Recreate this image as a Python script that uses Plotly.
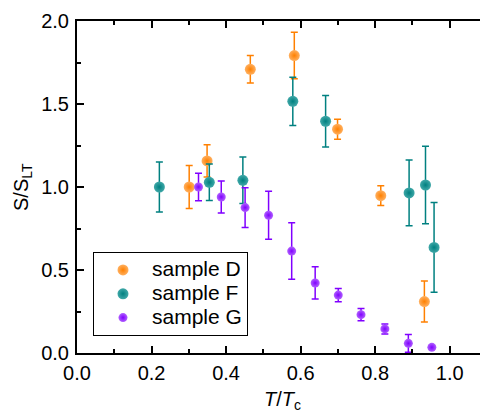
import plotly.graph_objects as go

# Sample D
d_x = [0.301, 0.349, 0.465, 0.583, 0.699, 0.815, 0.932]
d_y = [1.00, 1.157, 1.709, 1.792, 1.348, 0.948, 0.31]
d_err = [0.13, 0.097, 0.083, 0.14, 0.06, 0.06, 0.123]

# Sample F
f_x = [0.221, 0.355, 0.445, 0.579, 0.667, 0.891, 0.935, 0.958]
f_y = [1.00, 1.028, 1.04, 1.516, 1.396, 0.964, 1.012, 0.636]
f_err = [0.15, 0.11, 0.14, 0.145, 0.155, 0.198, 0.234, 0.27]

# Sample G
g_x = [0.326, 0.387, 0.451, 0.514, 0.576, 0.639, 0.701, 0.762, 0.826, 0.889, 0.952]
g_y = [1.00, 0.94, 0.876, 0.83, 0.614, 0.422, 0.349, 0.231, 0.145, 0.058, 0.034]
g_err = [0.083, 0.096, 0.12, 0.145, 0.17, 0.097, 0.04, 0.037, 0.03, 0.053, 0.008]

series = [
    ("sample D", d_x, d_y, d_err, "#FF8000", "#FFB060", 11),
    ("sample F", f_x, f_y, f_err, "#008080", "#40A8A8", 11),
    ("sample G", g_x, g_y, g_err, "#8000FF", "#B060FF", 9),
]

FONT = "Liberation Sans, Arial, sans-serif"

fig = go.Figure()
for name, xs, ys, es, col, light, size in series:
    fig.add_trace(go.Scatter(
        x=xs, y=ys, name="<span style='font-size:21px'>%s</span>" % name, mode="markers",
        marker=dict(size=size, color=light, line=dict(width=0),
                    gradient=dict(type="radial", color=col)),
        error_y=dict(type="data", array=es, visible=True, color=col,
                     thickness=1.5, width=3.5),
    ))

axis_common = dict(
    showline=True, linecolor="black", linewidth=2, mirror="allticks",
    ticks="inside", ticklen=7, tickwidth=2, tickcolor="black",
    showgrid=False, zeroline=False, automargin=False,
    tickfont=dict(family=FONT, size=20, color="black"),
)

fig.update_layout(
    width=480, height=405,
    margin=dict(l=69, r=1, t=13, b=60),
    paper_bgcolor="white", plot_bgcolor="white",
    font=dict(family=FONT, size=20, color="black"),
    showlegend=True,
    legend=dict(
        x=0.039, y=0.304, xanchor="left", yanchor="top",
        bordercolor="black", borderwidth=1, bgcolor="white",
        font=dict(family=FONT, size=16, color="black"),
        itemwidth=48, tracegroupgap=0,
    ),
    xaxis=dict(
        range=[0, 1.1], dtick=0.2, tick0=0, tickformat=".1f",
        minor=dict(dtick=0.1, ticks="inside", ticklen=4, tickwidth=1.5, tickcolor="black"),
        ticklabelstandoff=1,
        **axis_common,
    ),
    yaxis=dict(
        range=[0, 2.0], dtick=0.5, tick0=0, tickformat=".1f",
        minor=dict(dtick=0.25, ticks="inside", ticklen=4, tickwidth=1.5, tickcolor="black"),
        ticklabelstandoff=2,
        **axis_common,
    ),
    annotations=[
        dict(text="<i>T</i>/<i>T</i><sub>c</sub>", xref="paper", yref="paper",
             x=0.5, y=0, xanchor="center", yanchor="top", yshift=-33,
             showarrow=False, font=dict(family=FONT, size=20, color="black")),
        dict(text="S/S<sub>LT</sub>", xref="paper", yref="paper",
             x=0, y=0.5, xanchor="center", yanchor="middle", xshift=-55,
             textangle=-90, showarrow=False,
             font=dict(family=FONT, size=20, color="black")),
    ],
)

fig.write_html("out.html")
